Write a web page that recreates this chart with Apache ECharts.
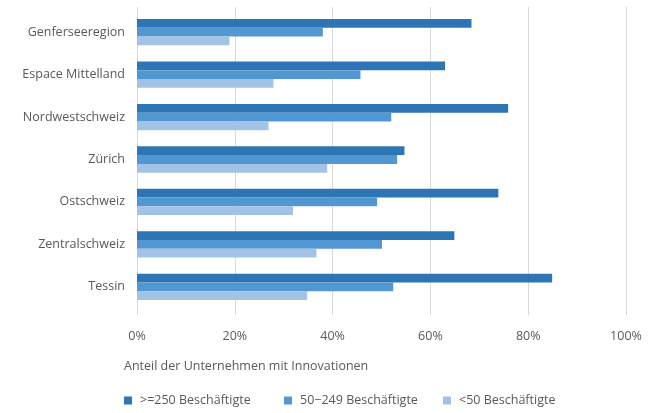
<!DOCTYPE html>
<html><head><meta charset="utf-8">
<script src="https://cdn.jsdelivr.net/npm/echarts@6/dist/echarts.min.js"></script>
<style>html,body{margin:0;padding:0;background:#fff}#c{width:656px;height:413px}</style>
</head><body><div id="c"></div>
<script>
const categories = ['Genferseeregion','Espace Mittelland','Nordwestschweiz','Zürich','Ostschweiz','Zentralschweiz','Tessin'];
const seriesNames = ['>=250 Beschäftigte','50\u2212249 Beschäftigte','<50 Beschäftigte'];
const large = [68.4, 63.0, 75.9, 54.7, 73.9, 64.9, 84.9];
const medium = [38.0, 45.7, 52.0, 53.2, 49.1, 50.1, 52.4];
const small = [18.9, 27.9, 26.9, 38.9, 31.9, 36.7, 34.8];
const tickLabels = ['0%','20%','40%','60%','80%','100%'];
const axisTitle = 'Anteil der Unternehmen mit Innovationen';

const colors = ['#2E75B6','#5397D2','#A2C2E6'];
const font = 'Open Sans';
const fs = 12.5;
const txt = '#595959';
const legendLefts = [119, 279, 438];

const chart = echarts.init(document.getElementById('c'), null, {renderer:'canvas'});
chart.setOption({
  animation:false,
  textStyle:{fontFamily:font},
  title:{text:axisTitle, left:119, top:355, textStyle:{fontFamily:font,fontSize:fs,fontWeight:'normal',color:txt}},
  legend: seriesNames.map((n,i)=>({left:legendLefts[i], top:389, itemWidth:8, itemHeight:8, icon:'rect',
    textStyle:{fontFamily:font,fontSize:fs,color:txt,padding:[0,0,0,3]},
    data:[n]})),
  grid:[
    {left:137, right:30, top:7, bottom:98},
    {left:137, right:30, top:11, bottom:105}
  ],
  xAxis:[
    {gridIndex:0, type:'value', min:0, max:100, interval:20,
      axisLine:{show:false}, axisTick:{show:false},
      splitLine:{show:true, lineStyle:{color:'#D9D9D9', width:1}},
      axisLabel:{margin:15, fontFamily:font, fontSize:fs, color:txt,
        formatter:(v)=>tickLabels[Math.round(v/20)]}},
    {gridIndex:1, type:'value', min:0, max:100, interval:20, show:false}
  ],
  yAxis:[
    {gridIndex:0, type:'value', show:false},
    {gridIndex:1, type:'category', data:categories, inverse:true,
      axisLine:{show:false}, axisTick:{show:false},
      axisLabel:{margin:12, fontFamily:font, fontSize:fs, color:txt}}
  ],
  series:[
    {name:seriesNames[0], type:'bar', xAxisIndex:1, yAxisIndex:1, data:large, itemStyle:{color:colors[0]}, barGap:'0%', barCategoryGap:'38%'},
    {name:seriesNames[1], type:'bar', xAxisIndex:1, yAxisIndex:1, data:medium, itemStyle:{color:colors[1]}, barGap:'0%', barCategoryGap:'38%'},
    {name:seriesNames[2], type:'bar', xAxisIndex:1, yAxisIndex:1, data:small, itemStyle:{color:colors[2]}, barGap:'0%', barCategoryGap:'38%'}
  ]
});
</script></body></html>
